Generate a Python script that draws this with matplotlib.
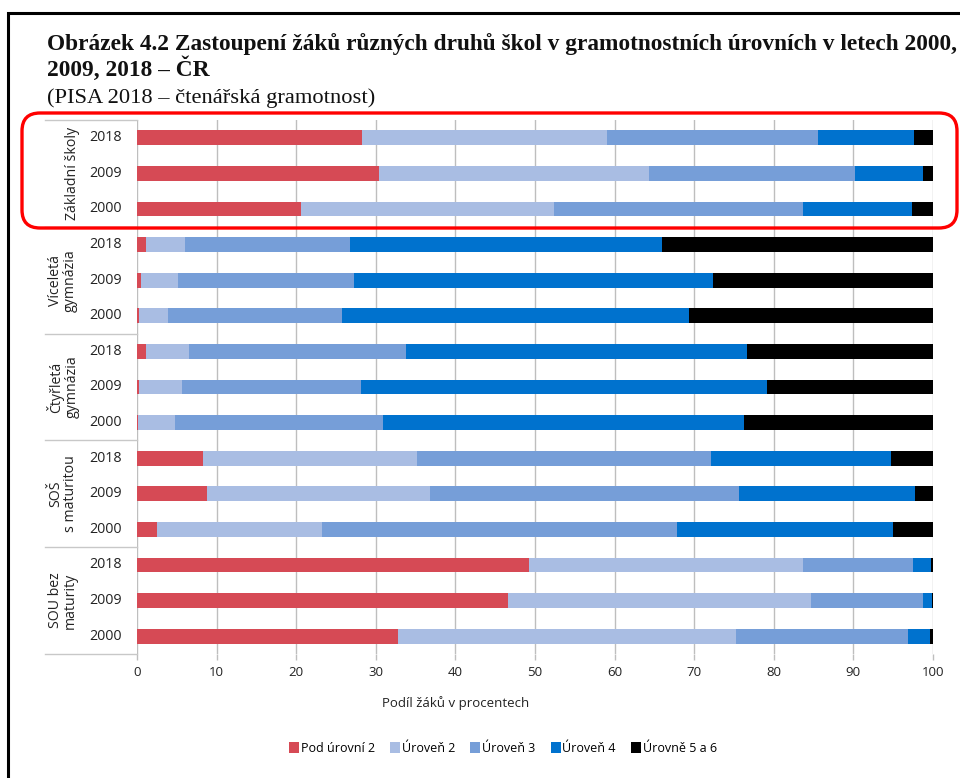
import matplotlib
matplotlib.use("Agg")
import matplotlib.pyplot as plt
from matplotlib.patches import Patch, FancyBboxPatch
from matplotlib.lines import Line2D
from matplotlib.transforms import IdentityTransform

# ---------------- data ----------------
groups = ["Základní školy", "Víceletá\ngymnázia", "Čtyřletá\ngymnázia",
          "SOŠ\ns maturitou", "SOU bez\nmaturity"]
years = ["2018", "2009", "2000"]
series_names = ["Pod úrovní 2", "Úroveň 2", "Úroveň 3", "Úroveň 4", "Úrovně 5 a 6"]

# rows top to bottom: each group 2018, 2009, 2000
pod2 = [28.3, 30.4, 20.6, 1.1, 0.5, 0.3, 1.1, 0.2, 0.1, 8.3, 8.8, 2.5, 49.2, 46.6, 32.8]
lvl2 = [30.8, 33.9, 31.8, 4.9, 4.6, 3.6, 5.4, 5.5, 4.7, 26.9, 28.0, 20.7, 34.5, 38.1, 42.5]
lvl3 = [26.5, 25.9, 31.3, 20.8, 22.2, 21.9, 27.3, 22.5, 26.1, 36.9, 38.8, 44.6, 13.8, 14.1, 21.5]
lvl4 = [12.0, 8.5, 13.7, 39.2, 45.1, 43.6, 42.8, 51.0, 45.4, 22.6, 22.2, 27.2, 2.3, 1.1, 2.8]
lvl56 = [2.4, 1.3, 2.6, 34.0, 27.6, 30.6, 23.4, 20.8, 23.7, 5.3, 2.2, 5.0, 0.2, 0.1, 0.4]

xticks = [0, 10, 20, 30, 40, 50, 60, 70, 80, 90, 100]
colors = ["#D64A55", "#A9BDE3", "#769ED8", "#0072CE", "#000000"]

W, H = 960, 778
fig = plt.figure(figsize=(W / 100, H / 100), dpi=100)
fig.patch.set_facecolor("white")

def fx(px):
    return px / W

def fy(py):
    return 1 - py / H

sans = ["Open Sans", "DejaVu Sans"]
serif = ["Liberation Serif", "DejaVu Serif"]

# plot axes
ax_l, ax_r, ax_t, ax_b = 137, 933, 120, 654
ax = fig.add_axes([fx(ax_l), fy(ax_b), (ax_r - ax_l) / W, (ax_b - ax_t) / H])
n = len(pod2)
ypos = list(range(n))
left = [0.0] * n
for vals, col, name in zip([pod2, lvl2, lvl3, lvl4, lvl56], colors, series_names):
    ax.barh(ypos, vals, left=left, height=0.42, color=col, edgecolor="none",
            label=name, zorder=3)
    left = [a + b for a, b in zip(left, vals)]

ax.set_xlim(0, 100)
ax.set_ylim(n - 0.5, -0.5)
ax.set_xticks(xticks)
ax.set_xticklabels([str(t) for t in xticks], fontfamily=sans, fontsize=9.5, color="#222222")
ax.set_yticks([])
for s in ["top", "right", "bottom", "left"]:
    ax.spines[s].set_visible(False)
ax.xaxis.grid(True, color="#BEBEBE", linewidth=1.0, zorder=0)
ax.tick_params(axis="x", length=4, color="#BEBEBE", width=1.0, pad=5)
fig.text(fx(456), fy(703), "Podíl žáků v procentech", ha="center", va="center",
         fontfamily=sans, fontsize=9.5, color="#222222")

# category panel
row_h = (ax_b - ax_t) / n
for i in range(len(groups) + 1):
    y = ax_t + i * 3 * row_h
    fig.add_artist(Line2D([fx(45), fx(ax_l)], [fy(y), fy(y)], color="#C8C8C8",
                          linewidth=1.0, transform=fig.transFigure))
for r in range(n):
    yc = ax_t + (r + 0.5) * row_h
    fig.text(fx(122), fy(yc), years[r % 3], ha="right", va="center",
             fontfamily=sans, fontsize=10.3, color="#222222")
for g, name in enumerate(groups):
    yc = ax_t + (g * 3 + 1.5) * row_h
    xc = 72 if "\n" not in name else 63
    fig.text(fx(xc), fy(yc), name, ha="center", va="center", rotation=90,
             fontfamily=sans, fontsize=10.2, color="#222222", linespacing=1.0,
             multialignment="center")

# legend
handles = [Patch(facecolor=c, edgecolor="none") for c in colors]
fig.legend(handles, series_names, loc="center", bbox_to_anchor=(fx(503), fy(748)),
           ncol=5, frameon=False, handlelength=0.8, handleheight=1.0,
           handletextpad=0.15, columnspacing=1.2,
           prop={"family": sans, "size": 9})

# title
fig.text(fx(47), fy(50), "Obrázek 4.2 Zastoupení žáků různých druhů škol v gramotnostních úrovních v letech 2000,",
         ha="left", va="baseline", fontfamily=serif, fontweight="bold", fontsize=16.8, color="#111111")
fig.text(fx(47), fy(76), "2009, 2018 – ČR",
         ha="left", va="baseline", fontfamily=serif, fontweight="bold", fontsize=16.8, color="#111111")
fig.text(fx(47), fy(103), "(PISA 2018 – čtenářská gramotnost)",
         ha="left", va="baseline", fontfamily=serif, fontsize=16.2, color="#111111")

# outer frame (top and left)
fig.add_artist(Line2D([fx(8), fx(8), fx(960)], [fy(778), fy(13), fy(13)], color="black",
                      linewidth=2.2, transform=fig.transFigure, solid_joinstyle="miter"))

# red highlight box
box = FancyBboxPatch((22, H - 228), 935, 115, boxstyle="round,pad=0,rounding_size=18",
                     transform=IdentityTransform(), facecolor="none", edgecolor="#FF0000",
                     linewidth=2.4, zorder=10)
fig.add_artist(box)

fig.savefig("out.png", dpi=100)
